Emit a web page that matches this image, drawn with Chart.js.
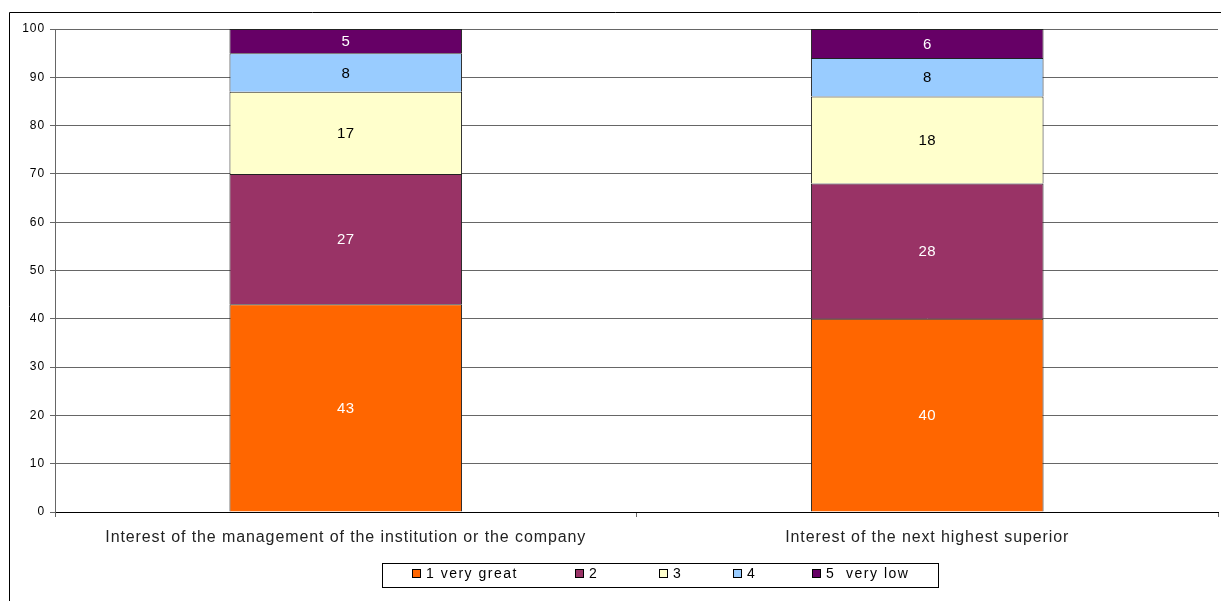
<!DOCTYPE html>
<html>
<head>
<meta charset="utf-8">
<script src="https://cdn.jsdelivr.net/npm/chart.js@4/dist/chart.umd.min.js"></script>
<style>
    html, body { margin: 0; padding: 0; background: #fff; }
    #wrap { position: relative; width: 1221px; height: 601px; }
</style>
</head>
<body>
<div id="wrap"><canvas id="chart" width="1221" height="601"></canvas></div>
<script>
// categories and series
const categories = [
    "Interest of the management of the institution or the company",
    "Interest of the next highest superior"
];
const seriesNames = ["1 very great", "2", "3", "4", "5  very low"];
const veryGreat = [43, 40];
const two = [27, 28];
const three = [17, 18];
const four = [8, 8];
const veryLow = [5, 6];
const yTicks = [0, 10, 20, 30, 40, 50, 60, 70, 80, 90, 100];

const colors = ["#FF6600", "#993366", "#FFFFCC", "#99CCFF", "#660066"];
const labelColors = ["#fff", "#fff", "#000", "#000", "#fff"];
const FONT = "Arial, 'Liberation Sans', sans-serif";

// il testo dell'originale e' un po' allargato: spaziatura tra lettere
const spacing = {
    id: "spacing",
    beforeDraw(chart) {
        chart.ctx.letterSpacing = "0.9px";
    }
};

// etichette dentro le barre
const barLabels = {
    id: "barLabels",
    afterDatasetsDraw(chart) {
        const ctx = chart.ctx;
        ctx.save();
        ctx.letterSpacing = "0.3px";
        ctx.font = "15px " + FONT;
        ctx.textAlign = "center";
        ctx.textBaseline = "middle";
        chart.data.datasets.forEach((ds, i) => {
            chart.getDatasetMeta(i).data.forEach((bar, j) => {
                ctx.fillStyle = labelColors[i];
                ctx.fillText(ds.data[j], bar.x, (bar.y + bar.base) / 2 + 1);
            });
        });
        ctx.restore();
    }
};

// cornice esterna + legenda con bordo
const frameAndLegend = {
    id: "frameAndLegend",
    afterDraw(chart) {
        const ctx = chart.ctx;
        ctx.save();
        ctx.strokeStyle = "#000";
        ctx.lineWidth = 1;
        ctx.beginPath();
        ctx.moveTo(9.5, 601);
        ctx.lineTo(9.5, 12.5);
        ctx.lineTo(1221, 12.5);
        ctx.stroke();

        ctx.strokeRect(382.5, 563.5, 556, 24);
        const itemX = [412, 575, 659, 733, 812];
        ctx.font = "14px " + FONT;
        ctx.letterSpacing = "1.5px";
        ctx.textBaseline = "middle";
        ctx.textAlign = "left";
        chart.data.datasets.forEach((ds, i) => {
            ctx.fillStyle = ds.backgroundColor;
            ctx.fillRect(itemX[i] + 0.5, 569.5, 8, 8);
            ctx.strokeStyle = "#000";
            ctx.strokeRect(itemX[i] + 0.5, 569.5, 8, 8);
            ctx.fillStyle = "#000";
            ctx.fillText(ds.label, itemX[i] + 14, 574.5);
        });
        ctx.restore();
    }
};

const seriesData = [veryGreat, two, three, four, veryLow];

new Chart(document.getElementById("chart"), {
    type: "bar",
    data: {
        labels: categories,
        datasets: seriesNames.map((name, i) => ({
            label: name,
            data: seriesData[i],
            backgroundColor: colors[i],
            borderColor: "#222",
            borderWidth: 1,
            categoryPercentage: 1,
            barPercentage: 0.4
        }))
    },
    options: {
        responsive: false,
        animation: false,
        layout: { padding: { top: 29, right: 3, left: 0, bottom: 0 } },
        plugins: {
            legend: { display: false },
            tooltip: { enabled: false }
        },
        scales: {
            x: {
                stacked: true,
                grid: {
                    offset: true,
                    drawOnChartArea: false,
                    tickLength: 5,
                    color: "#666"
                },
                border: { color: "#000" },
                ticks: {
                    color: "#222",
                    font: { family: FONT, size: 16 },
                    padding: 11,
                    maxRotation: 0
                },
                afterFit(scale) { scale.height = 89; }
            },
            y: {
                stacked: true,
                min: 0,
                max: 100,
                afterBuildTicks(scale) { scale.ticks = yTicks.map(v => ({ value: v })); },
                grid: { color: "#666", tickLength: 5 },
                border: { color: "#666" },
                ticks: {
                    color: "#000",
                    font: { family: FONT, size: 12 },
                    padding: 5
                },
                afterFit(scale) { scale.width = 55; }
            }
        }
    },
    plugins: [spacing, barLabels, frameAndLegend]
});
</script>
</body>
</html>
